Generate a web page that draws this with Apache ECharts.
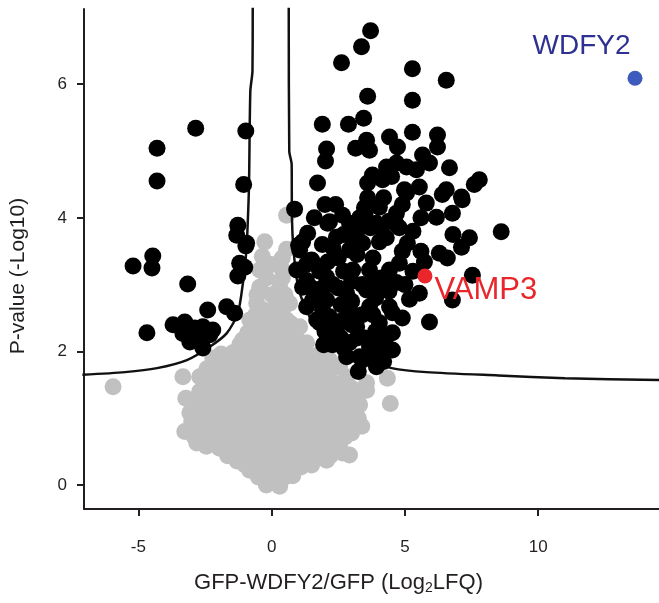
<!DOCTYPE html>
<html><head><meta charset="utf-8">
<script src="https://cdn.jsdelivr.net/npm/echarts@6/dist/echarts.min.js"></script>
<style>html,body{margin:0;padding:0;background:#fff}#c{width:659px;height:603px}</style>
</head><body><div id="c"></div>
<script>
const xTicks = [-5, 0, 5, 10];
const yTicks = [0, 2, 4, 6];

const grayPts = [
[-0.2,0.0],[0.3,-0.02],
[-0.5,0.12],[0.0,0.1],[0.5,0.12],[0.79,0.14],
[-0.82,0.22],[-0.3,0.24],[0.2,0.22],[0.7,0.25],[1.1,0.27],
[-1.0,0.3],[-0.55,0.3],[-0.05,0.3],[0.45,0.3],[0.95,0.3],
[-1.3,0.36],[-0.8,0.38],[-0.3,0.36],[0.2,0.38],[0.7,0.36],[1.2,0.38],[1.5,0.3],[2.06,0.37],
[-1.65,0.44],[-1.1,0.44],[-0.55,0.44],[0.0,0.44],[0.5,0.44],[1.05,0.44],[1.6,0.44],[2.2,0.44],
[-1.95,0.55],[-1.4,0.5],[-0.85,0.52],[-0.3,0.5],[0.25,0.52],[0.8,0.5],[1.35,0.52],[1.9,0.5],[2.66,0.48],[2.92,0.45],
[-2.45,0.58],[-1.9,0.58],[-1.35,0.58],[-0.8,0.58],[-0.25,0.58],[0.3,0.58],[0.85,0.58],[1.4,0.58],[1.95,0.58],[2.4,0.58],
[-2.81,0.63],[-2.2,0.65],[-1.65,0.66],[-1.1,0.64],[-0.55,0.66],[0.0,0.64],[0.55,0.66],[1.1,0.64],[1.65,0.66],[2.2,0.64],[2.55,0.57],
[-2.9,0.72],[-2.2,0.72],[-1.65,0.72],[-1.1,0.72],[-0.55,0.72],[0.0,0.72],[0.55,0.72],[1.1,0.72],[1.65,0.72],[2.2,0.72],[2.75,0.72],
[-3.26,0.8],[-2.5,0.78],[-1.95,0.8],[-1.4,0.78],[-0.85,0.8],[-0.3,0.78],[0.25,0.8],[0.8,0.78],[1.35,0.8],[1.9,0.78],[2.45,0.8],[3.0,0.78],
[-2.8,0.86],[-2.2,0.86],[-1.65,0.86],[-1.1,0.86],[-0.55,0.86],[0.0,0.86],[0.55,0.86],[1.1,0.86],[1.65,0.86],[2.2,0.86],[2.75,0.86],
[-3.0,0.95],[-2.2,0.92],[-1.65,0.94],[-1.1,0.92],[-0.55,0.94],[0.0,0.92],[0.55,0.94],[1.1,0.92],[1.65,0.94],[2.2,0.92],[2.75,0.94],[3.38,0.88],
[-2.75,1.0],[-2.2,1.0],[-1.65,1.0],[-1.1,1.0],[-0.55,1.0],[0.0,1.0],[0.55,1.0],[1.1,1.0],[1.65,1.0],[2.2,1.0],[2.75,1.0],[3.25,1.0],
[-3.07,1.08],[-2.5,1.06],[-1.95,1.08],[-1.4,1.06],[-0.85,1.08],[-0.3,1.06],[0.25,1.08],[0.8,1.06],[1.35,1.08],[1.9,1.06],[2.45,1.08],[3.0,1.06],
[-2.5,1.14],[-1.95,1.14],[-1.4,1.14],[-0.85,1.14],[-0.3,1.14],[0.25,1.14],[0.8,1.14],[1.35,1.14],[1.9,1.14],[2.45,1.14],[3.0,1.14],
[-2.8,1.22],[-2.2,1.2],[-1.65,1.22],[-1.1,1.2],[-0.55,1.22],[0.0,1.2],[0.55,1.22],[1.1,1.2],[1.65,1.22],[2.2,1.2],[2.75,1.22],[3.3,1.2],[4.45,1.22],
[-2.5,1.29],[-1.95,1.29],[-1.4,1.29],[-0.85,1.29],[-0.3,1.29],[0.25,1.29],[0.8,1.29],[1.35,1.29],[1.9,1.29],[2.45,1.29],[3.0,1.29],
[-3.22,1.3],[-2.7,1.4],[-2.1,1.36],[-1.5,1.38],[-0.9,1.36],[-0.3,1.38],[0.3,1.36],[0.9,1.38],[1.5,1.36],[2.1,1.38],[2.7,1.36],[3.3,1.38],[3.56,1.42],
[-2.4,1.45],[-1.8,1.45],[-1.2,1.45],[-0.6,1.45],[0.0,1.45],[0.6,1.45],[1.2,1.45],[1.8,1.45],[2.4,1.45],[3.0,1.45],
[-5.95,1.47],
[-3.33,1.62],[-2.4,1.52],[-1.8,1.54],[-1.2,1.52],[-0.6,1.54],[0.0,1.52],[0.6,1.54],[1.2,1.52],[1.8,1.54],[2.4,1.52],[2.81,1.62],[3.56,1.53],[4.34,1.6],
[-2.7,1.62],[-2.1,1.62],[-1.5,1.62],[-0.9,1.62],[-0.3,1.62],[0.3,1.62],[0.9,1.62],[1.5,1.62],[2.1,1.62],
[-2.43,1.74],[-1.9,1.7],[-1.3,1.72],[-0.7,1.7],[-0.1,1.72],[0.5,1.7],[1.1,1.72],[1.7,1.7],[2.2,1.72],[2.55,1.77],
[-1.9,1.8],[-1.3,1.8],[-0.7,1.8],[-0.1,1.8],[0.5,1.8],[1.1,1.8],[1.7,1.8],[2.3,1.8],
[-2.21,1.9],[-1.5,1.88],[-0.9,1.9],[-0.3,1.88],[0.3,1.9],[0.9,1.88],[1.54,1.92],[2.17,1.87],
[-1.9,1.96],[-1.2,1.96],[-0.6,1.96],[0.0,1.96],[0.6,1.96],[1.2,1.96],[1.8,1.96],
[-1.46,1.98],[-0.9,2.04],[-0.3,2.02],[0.3,2.04],[0.9,2.02],[1.31,2.13],
[-1.2,2.1],[-0.6,2.1],[0.0,2.1],[0.6,2.1],[1.1,2.1],
[-1.09,2.17],[-0.5,2.2],[0.1,2.18],[0.7,2.2],
[-0.9,2.28],[-0.3,2.28],[0.3,2.28],[0.9,2.28],
[-0.82,2.47],[-0.19,2.37],[0.4,2.34],[1.05,2.37],
[-0.5,2.42],[0.1,2.42],[0.7,2.42],
[-0.6,2.55],[0.0,2.55],[0.56,2.47],
[-0.3,2.62],[0.4,2.62],
[-0.56,2.72],[0.19,2.72],[0.67,2.72],
[-0.55,2.85],[0.0,2.85],[0.5,2.85],
[-0.45,2.96],[0.3,2.96],
[-0.2,3.1],[0.4,3.1],
[-0.45,3.22],[0.41,3.22],
[0.0,3.3],
[-0.35,3.42],[0.4,3.4],
[-0.26,3.64],[0.56,3.53],
[0.56,4.04]
];

const blackPts = [
[3.71,6.80],[3.37,6.56],[2.62,6.32],[5.28,6.23],[6.55,6.06],[3.60,5.82],[5.28,5.76],
[1.90,5.40],[2.88,5.40],[3.45,5.49],[5.28,5.28],[6.22,5.24],
[2.06,5.03],[2.02,4.85],[3.15,5.04],[3.56,5.16],[3.67,5.01],[4.42,5.21],[4.72,5.06],[6.22,5.06],[5.66,4.94],
[4.31,4.76],[4.68,4.82],[5.06,4.76],[5.43,4.72],[5.92,4.82],[6.67,4.75],[3.78,4.64],[7.79,4.57],[7.60,4.50],
[1.72,4.52],[3.60,4.52],[4.16,4.57],[4.98,4.42],[5.54,4.46],[6.55,4.42],[7.12,4.31],[4.50,4.62],
[0.86,4.13],[2.10,3.92],[3.48,4.15],[4.04,4.16],[4.68,4.07],[3.93,3.92],[4.68,3.90],[2.66,4.04],[2.17,3.94],[2.92,3.92],
[2.43,3.71],[1.35,3.77],[1.01,3.59],[1.16,3.64],[1.05,3.52],[1.50,3.37],[2.10,3.34],[2.92,3.52],[3.41,3.62],[4.04,3.64],[5.09,3.62],[4.79,3.85],
[5.06,4.37],[5.80,4.22],[6.18,4.01],[6.78,4.07],[7.15,4.27],[6.40,4.35],
[8.61,3.79],[7.42,3.70],[7.12,3.56],[6.59,3.40],[6.29,3.47],[5.73,3.34],[5.60,3.50],[6.80,3.75],[7.53,3.14],[6.78,2.77],[5.92,2.44],[5.54,2.87],[5.17,2.78],
[4.68,3.03],[4.53,2.58],[4.53,2.28],[4.53,2.02],
[4.79,3.32],[4.42,3.22],[3.67,3.22],[3.04,3.22],[2.06,3.11],[1.31,3.06],
[1.54,2.77],[2.06,2.77],[2.81,2.87],[3.56,2.92],[4.16,2.96],
[4.42,2.67],[3.67,2.67],[2.92,2.62],[2.17,2.52],[1.80,2.43],[2.43,2.32],[3.19,2.37],[4.04,2.43],
[4.31,2.22],[2.92,2.13],[2.28,2.10],[3.67,2.07],[4.16,2.02],[2.81,1.92],[3.41,1.87],[3.93,1.77],[4.20,1.85],
[0.94,3.22],[1.16,2.96],[1.31,2.67],[1.69,2.47],[1.91,2.62],[2.28,2.17],[3.30,1.92],
[1.90,3.60],[2.50,3.40],[3.20,3.80],[3.80,3.40],[4.30,3.70],[3.00,3.05],[2.50,2.95],[3.40,2.55],[3.90,2.80],[2.60,2.45],[3.50,2.20],[3.00,2.40],[1.80,3.20],[2.30,3.55],[3.60,4.30],[4.20,4.30],[4.90,4.20],[4.40,3.95],[4.10,3.10],[3.30,4.00],[2.00,4.20],
[1.60,4.00],[2.70,3.75],[3.00,3.70],[3.70,3.85],[3.20,3.45],[2.70,3.20],[2.30,3.00],[1.90,2.95],[3.40,3.00],[3.90,3.05],[4.40,2.90],[3.00,2.75],[2.60,2.70],[2.00,2.30],[2.60,2.20],[3.20,2.20],[3.90,2.30],[3.80,2.55],[4.90,2.50],[5.00,3.00],[4.90,3.50],[5.30,3.20],[5.30,3.80],[5.60,4.00],[4.10,3.85],[3.50,4.05],[2.40,4.20],[1.30,3.30],[1.50,2.95],[4.00,2.20],[3.25,1.70],[3.70,1.90],[2.70,2.05],[1.95,2.10],
[-2.85,5.34],[-4.30,5.04],[-4.30,4.55],[-0.97,5.30],[-1.05,4.50],[-1.27,3.89],[-1.31,3.74],[-0.97,3.58],[-0.94,3.62],[-1.01,3.26],[-1.27,3.13],[-1.20,3.32],
[-5.20,3.28],[-4.46,3.43],[-4.49,3.25],[-3.15,3.01],[-4.68,2.28],[-3.70,2.40],[-3.26,2.44],[-2.40,2.62],[-1.69,2.67],[-1.39,2.57],[-2.88,2.35],[-2.58,2.37],[-3.07,2.14],[-2.62,2.10],[-2.32,2.25],[-2.81,2.25],[-3.33,2.27],[-2.96,2.32],[-2.21,2.32],[-2.58,2.05]
];

const leftCurve = [
[-0.71,7.2],[-0.72,6.2],[-0.8,5.9],[-0.85,4.5],[-0.9,3.9],[-0.95,3.5],[-1.08,3.02],[-1.27,2.57],[-1.69,2.27],[-2.32,2.07],[-3.18,1.87],[-4.3,1.75],[-5.5,1.69],[-7.1,1.65]
];
const rightCurve = [
[0.64,7.2],[0.66,5.0],[0.75,4.8],[0.76,4.0],[0.82,3.52],[0.97,3.02],[1.24,2.67],[1.68,2.37],[2.43,2.13],[3.56,1.87],[4.5,1.75],[5.8,1.69],[8.5,1.64],[11,1.6],[14.6,1.57]
];
const vamp3 = [[5.75,3.13]];
const wdfy2 = [[13.63,6.09]];

const txt = '#231f20';
const ff = 'Liberation Sans, Arial, sans-serif';
const chart = echarts.init(document.getElementById('c'), null, {renderer:'canvas'});
chart.setOption({
  animation:false,
  backgroundColor:'#fff',
  grid:{left:84, right:0, top:9, bottom:94},
  xAxis:{
    type:'value', min:-7.04, max:14.53,
    axisLine:{show:true, onZero:false, lineStyle:{color:txt, width:2}},
    axisTick:{show:true, customValues:xTicks, length:7, lineStyle:{color:txt, width:2}},
    axisLabel:{customValues:xTicks, margin:30, fontSize:17, color:txt, fontFamily:ff},
    splitLine:{show:false},
    name:'{a|GFP-WDFY2/GFP (Log}{s|2}{a|LFQ)}',
    nameLocation:'middle', nameGap:61,
    nameTextStyle:{padding:[0,66,0,0], rich:{
      a:{fontSize:22, color:txt, fontFamily:ff, lineHeight:25},
      s:{fontSize:14, color:txt, fontFamily:ff, lineHeight:25, verticalAlign:'bottom'}
    }}
  },
  yAxis:{
    type:'value', min:-0.359, max:7.126,
    axisLine:{show:true, onZero:false, lineStyle:{color:txt, width:2}},
    axisTick:{show:true, customValues:yTicks, length:7, lineStyle:{color:txt, width:2}},
    axisLabel:{customValues:yTicks, margin:17, fontSize:17, color:txt, fontFamily:ff},
    splitLine:{show:false},
    name:'P-value (-Log10)', nameLocation:'middle', nameGap:55,
    nameTextStyle:{fontSize:21, color:txt, fontFamily:ff, padding:[0,34,0,0]}
  },
  series:[
    {type:'scatter', data:grayPts, symbolSize:17, itemStyle:{color:'#c0c0c0', opacity:1}, z:1, silent:true},
    {type:'line', data:leftCurve, smooth:0.25, showSymbol:false, lineStyle:{color:'#111', width:2.5}, z:2, silent:true},
    {type:'line', data:rightCurve, smooth:0.25, showSymbol:false, lineStyle:{color:'#111', width:2.5}, z:2, silent:true},
    {type:'scatter', data:blackPts, symbolSize:17, itemStyle:{color:'#000', opacity:1}, z:3, silent:true},
    {type:'scatter', data:vamp3, symbolSize:15, itemStyle:{color:'#e8262b', opacity:1}, z:4, silent:true,
      label:{show:true, formatter:'VAMP3', position:[17,22], align:'left', verticalAlign:'middle', fontSize:31, color:'#e8262b', fontFamily:ff}},
    {type:'scatter', data:wdfy2, symbolSize:15, itemStyle:{color:'#3d5bbd', opacity:1}, z:4, silent:true,
      label:{show:true, formatter:'WDFY2', position:[3,-24], align:'right', verticalAlign:'middle', fontSize:28, color:'#2e3192', fontFamily:ff}}
  ]
});
</script>
</body></html>
